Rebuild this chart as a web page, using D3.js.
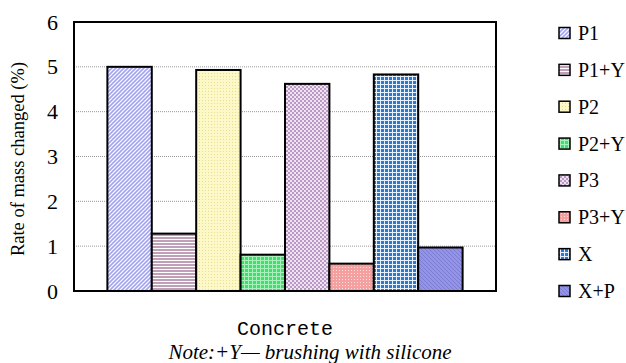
<!DOCTYPE html>
<html><head><meta charset="utf-8">
<script src="https://cdn.jsdelivr.net/npm/d3@7/dist/d3.min.js"></script>
<style>body{margin:0;background:#fff}svg{display:block}</style>
</head><body>
<script>
const categories = ["Concrete"];
const seriesNames = ["P1","P1+Y","P2","P2+Y","P3","P3+Y","X","X+P"];
const seriesValues = [5.0, 1.28, 4.93, 0.81, 4.62, 0.61, 4.83, 0.97];
const yTicks = [0,1,2,3,4,5,6];

const SERIF = "'Liberation Serif', 'Times New Roman', serif";
const W = 626, H = 363;
const m = {left:74, top:22, right:130, bottom:72};
const svg = d3.select("body").append("svg").attr("width",W).attr("height",H);
const defs = svg.append("defs");

function pat(id, size, bg, draw){
  const p = defs.append("pattern").attr("id",id).attr("patternUnits","userSpaceOnUse")
    .attr("width",size).attr("height",size);
  p.append("rect").attr("width",size).attr("height",size).attr("fill",bg);
  draw(p);
}
pat("p0",4,"#ffffff",p=>{p.append("path").attr("d","M-1,1 L1,-1 M0,4 L4,0 M3,5 L5,3").attr("stroke","#a4a4ec").attr("stroke-width",1.6);});
pat("p1",3,"#ffffff",p=>{p.append("rect").attr("width",3).attr("height",2).attr("fill","#bfa0b8");});
pat("p2",3,"#fdf8c8",p=>{p.append("rect").attr("x",1).attr("y",1).attr("width",1).attr("height",1).attr("fill","#e8dc90");});
pat("p3",4,"#3ee06a",p=>{p.append("rect").attr("width",4).attr("height",1).attr("fill","#a8f0bc");p.append("rect").attr("width",1).attr("height",4).attr("fill","#a8f0bc");});
pat("p4",4,"#f0e4f0",p=>{p.append("rect").attr("width",2).attr("height",2).attr("fill","#b898c4");p.append("rect").attr("x",2).attr("y",2).attr("width",2).attr("height",2).attr("fill","#b898c4");});
pat("p5",3,"#f4a0a0",p=>{p.append("rect").attr("width",1).attr("height",1).attr("fill","#fce0e0");});
pat("p6",4,"#2a7ad0",p=>{p.append("rect").attr("width",4).attr("height",1).attr("fill","#e8f2ff");p.append("rect").attr("width",1).attr("height",4).attr("fill","#e8f2ff");});
pat("p7",4,"#9494e4",p=>{p.append("path").attr("d","M-1,3 L1,5 M0,0 L4,4 M3,-1 L5,1").attr("stroke","#7c7cd4").attr("stroke-width",1);});

const x0 = d3.scaleBand().domain(categories).range([m.left, W-m.right]).paddingOuter(0.094).paddingInner(0);
const x1 = d3.scaleBand().domain(seriesNames).range([0, x0.bandwidth()]).padding(0);
const y = d3.scaleLinear().domain([0,6]).range([H-m.bottom, m.top]);

svg.append("g").selectAll("line").data(yTicks.filter(t=>t>0&&t<6)).join("line")
  .attr("x1",m.left).attr("x2",W-m.right).attr("y1",d=>y(d)).attr("y2",d=>y(d))
  .attr("stroke","#999").attr("stroke-width",1).attr("stroke-dasharray","1,1");

const g = svg.append("g");
categories.forEach(c=>{
  g.selectAll("rect.bar").data(seriesValues.map((v,i)=>({name:seriesNames[i],v,i}))).join("rect")
    .attr("class","bar")
    .attr("x",d=>x0(c)+x1(d.name)).attr("width",x1.bandwidth())
    .attr("y",d=>y(d.v)).attr("height",d=>y(0)-y(d.v))
    .attr("fill",d=>`url(#p${d.i})`).attr("stroke","#000").attr("stroke-width",2);
});

svg.append("rect").attr("x",m.left).attr("y",m.top).attr("width",W-m.right-m.left).attr("height",H-m.bottom-m.top)
  .attr("fill","none").attr("stroke","#000").attr("stroke-width",2);

const ya = svg.append("g").attr("transform",`translate(${m.left},0)`)
  .call(d3.axisLeft(y).tickValues(yTicks).tickFormat(d3.format("d")).tickSize(0).tickPadding(16));
ya.select(".domain").remove();
ya.attr("font-family",null).attr("font-size",null);
ya.selectAll("text").style("font-family",SERIF).style("font-size","22px").attr("fill","#000");

svg.append("text").attr("transform",`translate(24,${159}) rotate(-90)`).attr("text-anchor","middle")
  .style("font-family",SERIF).style("font-size","18.5px").text("Rate of mass changed (%)");

svg.append("text").attr("x",x0(categories[0])+x0.bandwidth()/2).attr("y",335).attr("text-anchor","middle")
  .style("font-family","'Liberation Mono', monospace").style("font-size","20px").text(categories[0]);
svg.append("text").attr("x",310).attr("y",359).attr("text-anchor","middle")
  .style("font-family",SERIF).style("font-style","italic").style("font-size","21px")
  .text("Note:+Y\u2014 brushing with silicone");

const lg = svg.append("g");
const ly = d3.scalePoint().domain(seriesNames).range([33,291]);
seriesNames.forEach((n,i)=>{
  lg.append("rect").attr("x",559).attr("y",ly(n)-5.5).attr("width",11).attr("height",11)
    .attr("fill",`url(#p${i})`).attr("stroke","#000").attr("stroke-width",1.5);
  lg.append("text").attr("x",578).attr("y",ly(n)+7).style("font-family",SERIF)
    .style("font-size","20px").text(n);
});
</script>
</body></html>
